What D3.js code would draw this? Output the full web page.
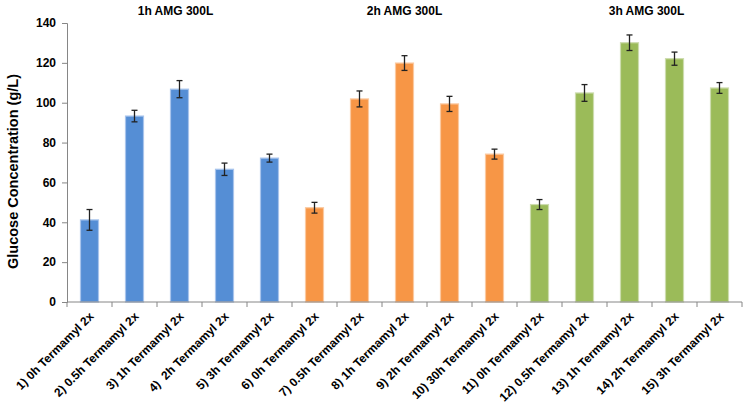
<!DOCTYPE html>
<html>
<head>
<meta charset="utf-8">
<script src="https://cdn.jsdelivr.net/npm/d3@7/dist/d3.min.js"></script>
<style>
  html, body { margin: 0; padding: 0; background: #fff; }
  svg { display: block; font-family: "Liberation Sans", Arial, sans-serif; }
  text { white-space: pre; }
</style>
</head>
<body>
<svg id="chart" width="745" height="406"></svg>
<script>
const categories = [
  "1) 0h Termamyl 2x", "2) 0.5h Termamyl 2x", "3) 1h Termamyl 2x", "4)  2h Termamyl 2x", "5) 3h Termamyl 2x",
  "6) 0h Termamyl 2x", "7) 0.5h Termamyl 2x", "8) 1h Termamyl 2x", "9) 2h Termamyl 2x", "10) 30h Termamyl 2x",
  "11) 0h Termamyl 2x", "12) 0.5h Termamyl 2x", "13) 1h Termamyl 2x", "14) 2h Termamyl 2x", "15) 3h Termamyl 2x"
];
const values = [41.2, 93.3, 106.8, 66.6, 72.2, 47.3, 101.9, 119.9, 99.4, 74.2, 48.9, 104.9, 130.1, 122.1, 107.4];
const errors = [5.2, 2.9, 4.3, 3.1, 2.0, 2.7, 4.0, 3.7, 3.8, 2.5, 2.5, 4.2, 3.9, 3.3, 2.7];
const groupIndex = [0,0,0,0,0, 1,1,1,1,1, 2,2,2,2,2];
const groupTitles = ["1h AMG 300L", "2h AMG 300L", "3h AMG 300L"];
const groupColors = ["#558ed5", "#f79646", "#9bbb59"];
const groupBorder = ["#a8c4ec", "#fbc9a0", "#cddcae"];
const yTicks = [0, 20, 40, 60, 80, 100, 120, 140];
const yLabel = "Glucose Concentration (g/L)";

const svg = d3.select("#chart");
const margin = { left: 67, right: 3, top: 23, bottom: 104 };
const W = 745, H = 406;
const plotW = W - margin.left - margin.right;
const plotH = H - margin.top - margin.bottom;

const x = d3.scaleBand().domain(d3.range(categories.length)).range([margin.left, margin.left + plotW]).paddingInner(0.6).paddingOuter(0.3);
const xOuter = d3.scaleBand().domain(d3.range(categories.length)).range([margin.left, margin.left + plotW]);
const y = d3.scaleLinear().domain([0, 140]).range([margin.top + plotH, margin.top]);

// y axis
const yAxis = svg.append("g").attr("transform", `translate(${margin.left},0)`)
  .call(d3.axisLeft(y).tickValues(yTicks).tickSize(5).tickPadding(6));
yAxis.select(".domain").attr("stroke", "#868686");
yAxis.selectAll(".tick line").attr("stroke", "#868686");
yAxis.selectAll(".tick text").attr("font-size", "12px").attr("font-weight", "bold").attr("fill", "#000")
  .attr("font-family", "'Liberation Sans', Arial, sans-serif");

// bars
svg.append("g").selectAll("rect").data(values).join("rect")
  .attr("x", (d, i) => x(i))
  .attr("width", x.bandwidth())
  .attr("y", d => y(d))
  .attr("height", d => y(0) - y(d))
  .attr("fill", (d, i) => groupColors[groupIndex[i]])
  .attr("stroke", (d, i) => groupBorder[groupIndex[i]])
  .attr("stroke-width", 1.2);

// error bars
const eg = svg.append("g").attr("stroke", "#222").attr("stroke-width", 1.3);
values.forEach((v, i) => {
  const cx = x(i) + x.bandwidth() / 2;
  eg.append("line").attr("x1", cx).attr("x2", cx).attr("y1", y(v + errors[i])).attr("y2", y(v - errors[i]));
  eg.append("line").attr("x1", cx - 3).attr("x2", cx + 3).attr("y1", y(v + errors[i])).attr("y2", y(v + errors[i]));
  eg.append("line").attr("x1", cx - 3).attr("x2", cx + 3).attr("y1", y(v - errors[i])).attr("y2", y(v - errors[i]));
});

// x axis
const xg = svg.append("g");
xg.append("line").attr("x1", margin.left).attr("x2", margin.left + plotW)
  .attr("y1", y(0)).attr("y2", y(0)).attr("stroke", "#868686");
d3.range(categories.length + 1).forEach(i => {
  const tx = i < categories.length ? xOuter(i) : margin.left + plotW;
  xg.append("line").attr("x1", tx).attr("x2", tx).attr("y1", y(0)).attr("y2", y(0) + 5).attr("stroke", "#868686");
});
xg.selectAll("text").data(categories).join("text")
  .attr("transform", (d, i) => `translate(${xOuter(i) + xOuter.bandwidth() / 2 + 5},${y(0) + 15}) rotate(-45)`)
  .attr("text-anchor", "end")
  .attr("font-size", "12px").attr("font-weight", "bold").attr("fill", "#000")
  .text(d => d);

// group titles
const titleOffset = [-4, 0, 17];
groupTitles.forEach((t, g) => {
  const c = xOuter(g * 5 + 2) + xOuter.bandwidth() / 2 + titleOffset[g];
  svg.append("text").attr("x", c).attr("y", 15).attr("text-anchor", "middle")
    .attr("font-size", "12px").attr("font-weight", "bold").attr("fill", "#000").text(t);
});

// y label
svg.append("text")
  .attr("transform", `translate(18,${(y(0) + y(140)) / 2 + 9}) rotate(-90)`)
  .attr("text-anchor", "middle")
  .attr("font-size", "14.5px").attr("font-weight", "bold").attr("fill", "#000")
  .text(yLabel);
</script>
</body>
</html>
